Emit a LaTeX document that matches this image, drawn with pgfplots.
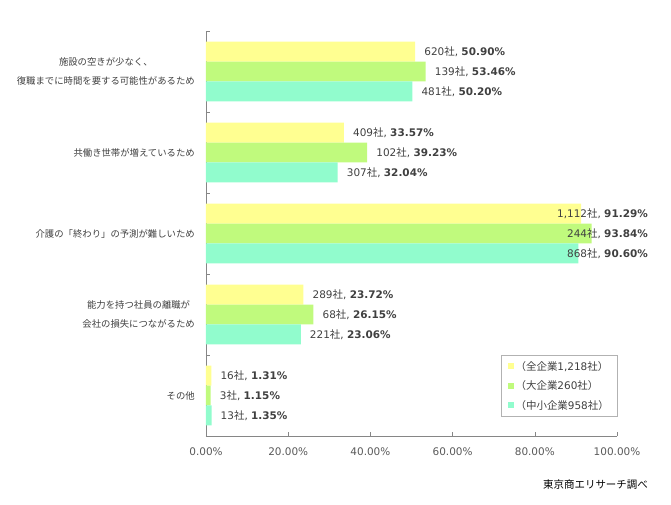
\documentclass[border=0pt]{standalone}
\usepackage{pgfplots}
\pgfplotsset{compat=1.18}
\usepackage{fontspec}
\setmainfont{DejaVu Sans}
\newfontfamily\cjk{Noto Sans CJK JP}
\definecolor{yel}{RGB}{255,255,145}
\definecolor{grn}{RGB}{192,250,125}
\definecolor{tea}{RGB}{145,252,205}
\definecolor{axg}{RGB}{134,134,134}
\definecolor{txt}{RGB}{64,64,64}
\definecolor{tkc}{RGB}{89,89,89}
\newcommand{\sha}{{\cjk 社}}
\begin{document}
\begin{tikzpicture}
\path[use as bounding box] (-206bp,-69bp) rectangle (465bp,436bp);
\begin{axis}[
  name=ax, at={(0,0)}, anchor=south west,
  scale only axis, width=411bp, height=405bp,
  xmin=0, xmax=100, ymin=-0.5, ymax=4.5, clip=false,
  axis x line*=bottom, axis y line*=left,
  axis line style={draw=axg},
  tick style={draw=axg, thin}, tick align=inside, major tick length=4bp,
  xtick={0,20,...,100},
  /pgf/number format/assume math mode=true,
  xticklabel={\pgfmathprintnumber[fixed,fixed zerofill,precision=2]{\tick}\%},
  xticklabel style={font=\fontsize{10.5}{12}\selectfont, text=tkc, inner sep=0pt, yshift=-12bp},
  ytick={-0.5,0.5,...,4.5},
  y tick label as interval,
  yticklabels={{その他},{能力を持つ社員の離職が\\会社の損失につながるため},{介護の「終わり」の予測が難しいため},{共働き世帯が増えているため},{施設の空きが少なく、\\復職までに時間を要する可能性があるため}},
  yticklabel style={font=\cjk\fontsize{9.4}{18.5}\selectfont, align=center, text=txt, inner sep=0pt, xshift=-11bp},
  legend style={at={(1,0.2)}, anchor=north east, draw=gray!60, font=\fontsize{10.5}{12}\selectfont, text=txt, inner xsep=6bp, inner ysep=4bp, row sep=5bp, cells={anchor=west}},
  legend image code/.code={\fill[#1,draw=none] (0bp,-3bp) rectangle (6bp,3bp);},
]
\addplot[xbar, bar width=0.246, bar shift=0pt, fill=yel, draw=none] coordinates {(50.90,4.246) (33.57,3.246) (91.29,2.246) (23.72,1.246) (1.31,0.246)};
\addlegendentry{{\cjk （全企業}1,218{\cjk 社）}}
\addplot[xbar, bar width=0.246, bar shift=0pt, fill=grn, draw=none] coordinates {(53.46,4) (39.23,3) (93.84,2) (26.15,1) (1.15,0)};
\addlegendentry{{\cjk （大企業}260{\cjk 社）}}
\addplot[xbar, bar width=0.246, bar shift=0pt, fill=tea, draw=none] coordinates {(50.20,3.754) (32.04,2.754) (90.60,1.754) (23.06,0.754) (1.35,-0.246)};
\addlegendentry{{\cjk （中小企業}958{\cjk 社）}}
\addplot[forget plot, draw=none, mark=none, nodes near coords, point meta=explicit symbolic,
  every node near coord/.append style={anchor=west, inner sep=0pt, xshift=9bp, text=txt, font=\fontsize{10.5}{12}\selectfont}]
  coordinates {
  (50.90,4.246) [620\sha, \textbf{50.90\%}]
  (53.46,4) [139\sha, \textbf{53.46\%}]
  (50.20,3.754) [481\sha, \textbf{50.20\%}]
  (33.57,3.246) [409\sha, \textbf{33.57\%}]
  (39.23,3) [102\sha, \textbf{39.23\%}]
  (32.04,2.754) [307\sha, \textbf{32.04\%}]
  (23.72,1.246) [289\sha, \textbf{23.72\%}]
  (26.15,1) [68\sha, \textbf{26.15\%}]
  (23.06,0.754) [221\sha, \textbf{23.06\%}]
  (1.31,0.246) [16\sha, \textbf{1.31\%}]
  (1.15,0) [3\sha, \textbf{1.15\%}]
  (1.35,-0.246) [13\sha, \textbf{1.35\%}]
  };
\addplot[forget plot, draw=none, mark=none, nodes near coords, point meta=explicit symbolic,
  every node near coord/.append style={anchor=east, inner sep=0pt, text=txt, font=\fontsize{10.5}{12}\selectfont}]
  coordinates {
  (107.54,2.246) [1,112\sha, \textbf{91.29\%}]
  (107.54,2) [244\sha, \textbf{93.84\%}]
  (107.54,1.754) [868\sha, \textbf{90.60\%}]
  };
\end{axis}
\node[anchor=east, inner sep=0pt, font=\cjk\fontsize{10.5}{12}\selectfont, text=black] at ([xshift=31bp,yshift=-49bp]ax.south east) {東京商エリサーチ調べ};
\end{tikzpicture}
\end{document}
